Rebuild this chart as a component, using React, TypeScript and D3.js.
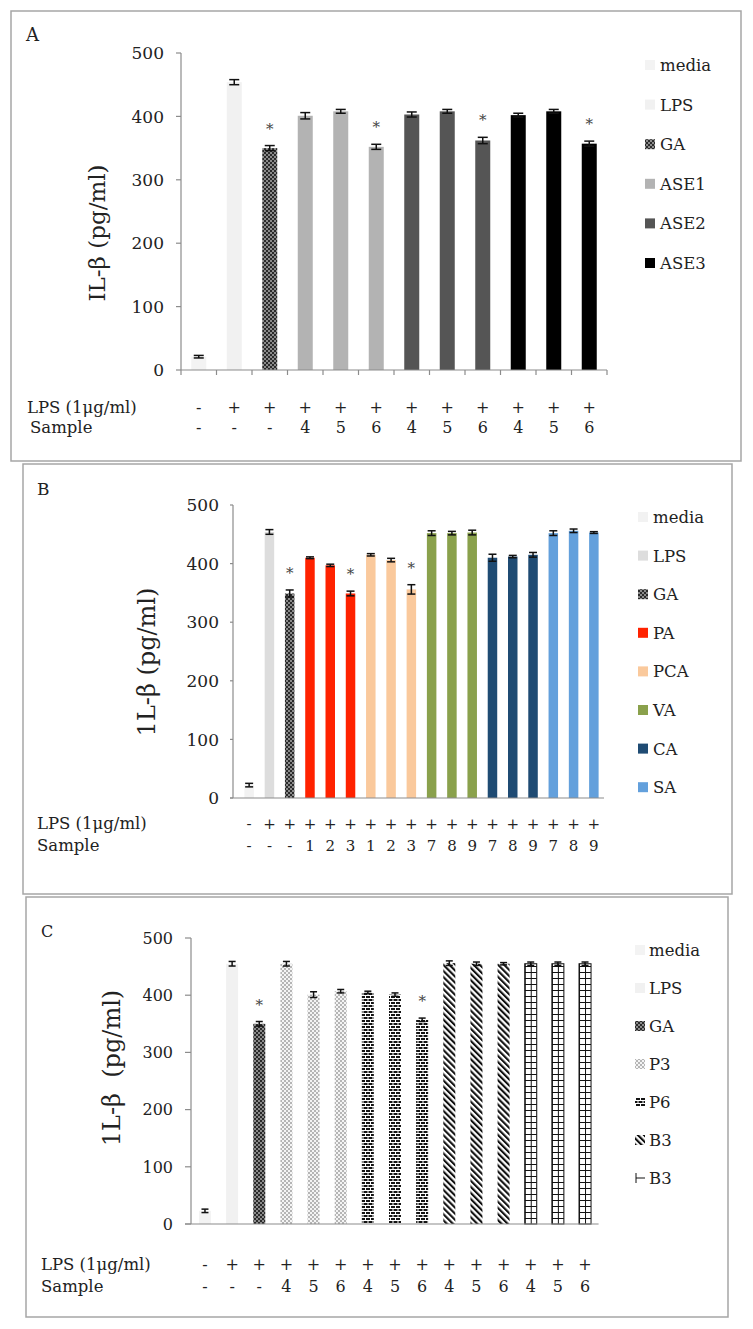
import * as React from "react";
import * as d3 from "d3";

const yTicks = [0, 100, 200, 300, 400, 500];

// Panel A
const groupsA = ["media", "LPS", "GA", "ASE1", "ASE1", "ASE1", "ASE2", "ASE2", "ASE2", "ASE3", "ASE3", "ASE3"];
const valuesA = [21, 454, 350, 401, 408, 352, 403, 408, 362, 402, 408, 357];
const errorsA = [2, 4, 4, 5, 3, 4, 4, 3, 5, 3, 3, 4];
const starsA = [2, 5, 8, 11];
const lpsA = ["-", "+", "+", "+", "+", "+", "+", "+", "+", "+", "+", "+"];
const sampleA = ["-", "-", "-", "4", "5", "6", "4", "5", "6", "4", "5", "6"];
const legendA = ["media", "LPS", "GA", "ASE1", "ASE2", "ASE3"];

// Panel B
const groupsB = ["media", "LPS", "GA", "PA", "PA", "PA", "PCA", "PCA", "PCA", "VA", "VA", "VA", "CA", "CA", "CA", "SA", "SA", "SA"];
const valuesB = [22, 454, 349, 410, 397, 349, 415, 406, 356, 452, 452, 453, 410, 412, 415, 452, 456, 453];
const errorsB = [3, 4, 6, 1.5, 2, 4, 2, 3, 8, 4, 3, 4, 6, 2, 4, 4, 3, 1.5];
const starsB = [2, 5, 8];
const lpsB = ["-", "+", "+", "+", "+", "+", "+", "+", "+", "+", "+", "+", "+", "+", "+", "+", "+", "+"];
const sampleB = ["-", "-", "-", "1", "2", "3", "1", "2", "3", "7", "8", "9", "7", "8", "9", "7", "8", "9"];
const legendB = ["media", "LPS", "GA", "PA", "PCA", "VA", "CA", "SA"];

// Panel C
const groupsC = ["media", "LPS", "GA", "P3", "P3", "P3", "P6", "P6", "P6", "B3a", "B3a", "B3a", "B3b", "B3b", "B3b"];
const valuesC = [23, 455, 350, 455, 401, 407, 405, 401, 357, 456, 455, 455, 455, 455, 455];
const errorsC = [3, 4, 4, 4, 5, 3, 2, 3, 3, 4, 3, 2, 3, 3, 3];
const starsC = [2, 8];
const lpsC = ["-", "+", "+", "+", "+", "+", "+", "+", "+", "+", "+", "+", "+", "+", "+"];
const sampleC = ["-", "-", "-", "4", "5", "6", "4", "5", "6", "4", "5", "6", "4", "5", "6"];
const legendC = ["media", "LPS", "GA", "P3", "P6", "B3a", "B3b"];
const legendLabels: Record<string, string> = { B3a: "B3", B3b: "B3" };

const FONT = "DejaVu Serif";
const AXIS = "#8c8c8c";

const fillsA: Record<string, string> = {
  media: "#f3f3f3", LPS: "#f1f1f1", GA: "url(#checkDark)",
  ASE1: "#b3b3b3", ASE2: "#555555", ASE3: "#000000",
};
const fillsB: Record<string, string> = {
  media: "#f2f2f2", LPS: "#dddddd", GA: "url(#checkDark)", PA: "#ff2200",
  PCA: "#fac99c", VA: "#8aa14c", CA: "#1f4b73", SA: "#63a0dc",
};
const fillsC: Record<string, string> = {
  media: "#f3f3f3", LPS: "#f1f1f1", GA: "url(#checkDark)", P3: "url(#checkLight)",
  P6: "url(#brick)", B3a: "url(#diag)", B3b: "grid",
};

interface Spec {
  id: string;
  letter: string;
  box: [number, number, number, number];
  letterPos: [number, number, number];
  groups: string[];
  values: number[];
  errors: number[];
  stars: number[];
  lps: string[];
  sample: string[];
  legend: string[];
  fills: Record<string, string>;
  xRange: [number, number];
  axisX: number;
  yRange: [number, number];
  barW: number;
  capW: number;
  tickLen: number;
  xTicks: boolean;
  tickFont: number;
  tickLabelX: number;
  title: string;
  titlePos: [number, number, number];
  legendPos: [number, number, number, number, number];
  rowLabelX: [number, number];
  rowY: [number, number];
  rowFont: number;
  symFont: number;
}

function Panel({ s }: { s: Spec }) {
  const n = s.values.length;
  const step = (s.xRange[1] - s.xRange[0]) / n;
  const pad = 1 - s.barW / step;
  const x = d3.scaleBand<number>().domain(d3.range(n)).range(s.xRange)
    .paddingInner(pad).paddingOuter(pad / 2);
  const y = d3.scaleLinear().domain([0, 500]).range(s.yRange);
  const [lx, lsq, ltx, ly0, lstep] = s.legendPos;

  return (
    <g>
      <rect x={s.box[0]} y={s.box[1]} width={s.box[2]} height={s.box[3]}
        fill="#fff" stroke="#a6a6a6" strokeWidth={1.5} />
      <text x={s.letterPos[0]} y={s.letterPos[1]} fontSize={s.letterPos[2]} fill="#222">{s.letter}</text>

      {/* grid patterns aligned to each grid bar */}
      <defs>
        {s.values.map((v, i) => s.fills[s.groups[i]] === "grid" ? (
          <pattern key={i} id={`${s.id}grid${i}`} patternUnits="userSpaceOnUse"
            x={x(i)!} y={s.yRange[0]} width={s.barW / 2} height={6}>
            <rect width={s.barW / 2} height={6} fill="#fff" />
            <line x1={0.5} y1={0} x2={0.5} y2={6} stroke="#111" strokeWidth={1} />
            <line x1={0} y1={0.5} x2={s.barW / 2} y2={0.5} stroke="#111" strokeWidth={1} />
          </pattern>
        ) : null)}
      </defs>

      {/* y axis */}
      <line x1={s.axisX} x2={s.axisX} y1={y(500)} y2={y(0)} stroke={AXIS} strokeWidth={1.2} />
      {yTicks.map(t => (
        <g key={t}>
          <line x1={s.axisX - s.tickLen} x2={s.axisX} y1={y(t)} y2={y(t)} stroke={AXIS} strokeWidth={1.2} />
          <text x={s.tickLabelX} y={y(t)} dy="0.36em" textAnchor="end" fontSize={s.tickFont} fill="#222">{t}</text>
        </g>
      ))}
      <text transform={`translate(${s.titlePos[0]},${s.titlePos[1]}) rotate(-90)`} textAnchor="middle"
        dy="0.35em" fontSize={s.titlePos[2]} fill="#222" style={{ whiteSpace: "pre" }}>{s.title}</text>

      {/* bars */}
      {s.values.map((v, i) => {
        const f = s.fills[s.groups[i]];
        const isGrid = f === "grid";
        return (
          <rect key={i} x={x(i)!} width={x.bandwidth()} y={y(v)} height={y(0) - y(v)}
            fill={isGrid ? `url(#${s.id}grid${i})` : f}
            stroke={isGrid ? "#111" : "none"} strokeWidth={1} />
        );
      })}

      {/* x axis */}
      <line x1={s.axisX - (s.xTicks ? 0 : s.tickLen)} x2={s.xRange[1]} y1={y(0)} y2={y(0)} stroke={AXIS} strokeWidth={1.2} />
      {s.xTicks && d3.range(n + 1).map(i => (
        <line key={i} x1={s.xRange[0] + i * step} x2={s.xRange[0] + i * step} y1={y(0)} y2={y(0) + 5}
          stroke={AXIS} strokeWidth={1.2} />
      ))}

      {/* error bars */}
      {s.values.map((v, i) => {
        const cx = x(i)! + x.bandwidth() / 2;
        const top = y(v + s.errors[i]);
        const bot = y(v - s.errors[i]);
        return (
          <g key={i} stroke="#111" strokeWidth={1.5}>
            <line x1={cx} x2={cx} y1={top} y2={bot} />
            <line x1={cx - s.capW / 2} x2={cx + s.capW / 2} y1={top} y2={top} />
            <line x1={cx - s.capW / 2} x2={cx + s.capW / 2} y1={bot} y2={bot} />
          </g>
        );
      })}
      {s.stars.map(i => (
        <text key={i} x={x(i)! + x.bandwidth() / 2} y={y(s.values[i] + s.errors[i]) - 12}
          textAnchor="middle" fontSize={15} fill="#444">*</text>
      ))}

      {/* legend */}
      {s.legend.map((k, j) => {
        const cy = ly0 + j * lstep;
        const f = s.fills[k];
        return (
          <g key={k}>
            {f === "grid" ? (
              <g stroke="#111" strokeWidth={1}>
                <line x1={lx + 1} x2={lx + 1} y1={cy - 5} y2={cy + 5} />
                <line x1={lx + 1} x2={lx + lsq} y1={cy} y2={cy} />
              </g>
            ) : (
              <rect x={lx} y={cy - lsq / 2} width={lsq} height={lsq} fill={f} />
            )}
            <text x={ltx} y={cy + 6} fontSize={s.rowFont} fill="#222">{legendLabels[k] ?? k}</text>
          </g>
        );
      })}

      {/* condition rows */}
      <text x={s.rowLabelX[0]} y={s.rowY[0]} fontSize={s.rowFont} fill="#222">LPS (1μg/ml)</text>
      <text x={s.rowLabelX[1]} y={s.rowY[1]} fontSize={s.rowFont} fill="#222">Sample</text>
      {s.lps.map((t, i) => (
        <text key={"l" + i} x={x(i)! + x.bandwidth() / 2} y={s.rowY[0]} textAnchor="middle"
          fontSize={s.symFont} fill="#222">{t}</text>
      ))}
      {s.sample.map((t, i) => (
        <text key={"s" + i} x={x(i)! + x.bandwidth() / 2} y={s.rowY[1]} textAnchor="middle"
          fontSize={s.symFont} fill="#222">{t}</text>
      ))}
    </g>
  );
}

const specA: Spec = {
  id: "a", letter: "A", box: [11, 11, 730, 450], letterPos: [26, 41, 18],
  groups: groupsA, values: valuesA, errors: errorsA, stars: starsA, lps: lpsA, sample: sampleA,
  legend: legendA, fills: fillsA,
  xRange: [181, 607], axisX: 181, yRange: [370, 53], barW: 15, capW: 10, tickLen: 5, xTicks: true,
  tickFont: 17, tickLabelX: 164, title: "IL-β (pg/ml)", titlePos: [97, 233, 23],
  legendPos: [645, 10, 660, 65, 39.6], rowLabelX: [27, 30], rowY: [413, 433], rowFont: 16.5, symFont: 16,
};

const specB: Spec = {
  id: "b", letter: "B", box: [23, 464, 709, 430], letterPos: [37, 495, 17],
  groups: groupsB, values: valuesB, errors: errorsB, stars: starsB, lps: lpsB, sample: sampleB,
  legend: legendB, fills: fillsB,
  xRange: [239, 604], axisX: 233, yRange: [798, 505], barW: 9.5, capW: 8, tickLen: 3, xTicks: false,
  tickFont: 17, tickLabelX: 219, title: "1L-β (pg/ml)", titlePos: [147, 662, 24],
  legendPos: [638, 10, 653, 517, 38.6], rowLabelX: [37, 37], rowY: [829, 851], rowFont: 16.5, symFont: 15,
};

const specC: Spec = {
  id: "c", letter: "C", box: [26, 897, 702, 420], letterPos: [41, 937, 16],
  groups: groupsC, values: valuesC, errors: errorsC, stars: starsC, lps: lpsC, sample: sampleC,
  legend: legendC, fills: fillsC,
  xRange: [191.4, 598.6], axisX: 191, yRange: [1224, 938], barW: 12, capW: 7, tickLen: 6, xTicks: false,
  tickFont: 16, tickLabelX: 173, title: "1L-β  (pg/ml)", titlePos: [112, 1068, 24],
  legendPos: [635, 10, 649, 950, 38], rowLabelX: [41, 41], rowY: [1270, 1292], rowFont: 16.5, symFont: 16,
};

export default function App() {
  return (
    <svg width={753} height={1329} fontFamily={FONT}
      style={{ position: "absolute", left: 0, top: 0, background: "#fff" }}>
      <defs>
        <pattern id="checkDark" patternUnits="userSpaceOnUse" width={4} height={4}>
          <rect width={4} height={4} fill="#8a8a8a" />
          <rect width={2} height={2} fill="#2a2a2a" />
          <rect x={2} y={2} width={2} height={2} fill="#2a2a2a" />
        </pattern>
        <pattern id="checkLight" patternUnits="userSpaceOnUse" width={4} height={4}>
          <rect width={4} height={4} fill="#f4f4f4" />
          <rect width={2} height={2} fill="#b5b5b5" />
          <rect x={2} y={2} width={2} height={2} fill="#b5b5b5" />
        </pattern>
        <pattern id="brick" patternUnits="userSpaceOnUse" width={10} height={6}>
          <rect width={10} height={6} fill="#141414" />
          <rect y={2} width={10} height={1} fill="#fff" />
          <rect y={5} width={10} height={1} fill="#fff" />
          <rect x={0} y={0} width={1} height={2} fill="#fff" />
          <rect x={5} y={0} width={1} height={2} fill="#fff" />
          <rect x={2.5} y={3} width={1} height={2} fill="#fff" />
          <rect x={7.5} y={3} width={1} height={2} fill="#fff" />
        </pattern>
        <pattern id="diag" patternUnits="userSpaceOnUse" width={4.3} height={8} patternTransform="rotate(-45)">
          <rect width={4.3} height={8} fill="#fff" />
          <rect width={2.1} height={8} fill="#111" />
        </pattern>
      </defs>
      <Panel s={specA} />
      <Panel s={specB} />
      <Panel s={specC} />
    </svg>
  );
}
